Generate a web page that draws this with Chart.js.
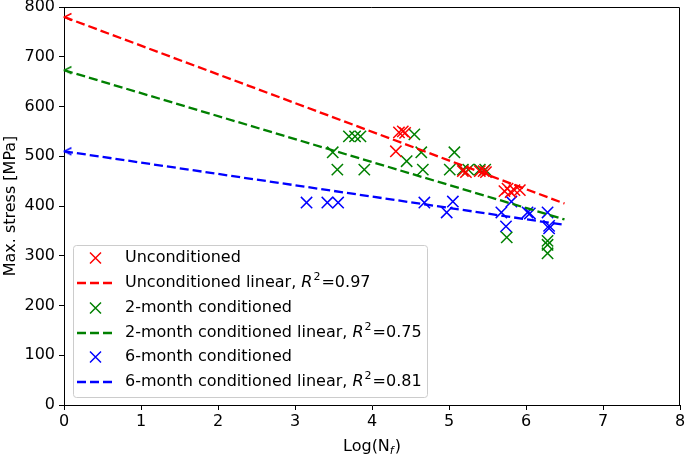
<!DOCTYPE html>
<html>
<head>
<meta charset="utf-8">
<script src="https://cdn.jsdelivr.net/npm/chart.js@4.4.0/dist/chart.umd.min.js"></script>
<style>
  body { margin: 0; background: #fff; }
  #wrap { width: 685px; height: 455px; }
</style>
</head>
<body>
<div id="wrap"><canvas id="fatigue"></canvas></div>
<script>
const uncondX = [4.31, 4.35, 4.40, 4.43, 5.18, 5.22, 5.40, 5.45, 5.48, 5.72, 5.76, 5.80, 5.85, 5.92];
const uncondY = [510, 548, 550, 547, 470, 468, 470, 470, 468, 430, 435, 428, 432, 432];

const twoMonthX = [3.49, 3.55, 3.70, 3.78, 3.85, 3.90, 4.45, 4.55, 4.64, 4.66, 5.01, 5.07, 5.18, 5.25, 5.40, 5.47, 5.75, 6.28, 6.28, 6.28];
const twoMonthY = [508, 473, 540, 540, 540, 473, 490, 544, 508, 473, 473, 508, 473, 473, 473, 473, 337, 330, 322, 305];

const sixMonthX = [3.15, 3.42, 3.56, 4.68, 4.97, 5.05, 5.68, 5.74, 5.81, 6.02, 6.05, 6.28, 6.30, 6.30];
const sixMonthY = [407, 407, 407, 407, 387, 409, 387, 359, 409, 387, 385, 387, 360, 355];

// Linear fits, end points
const fitX = [0, 6.5];
const uncondFitY = [780, 405];
const twoMonthFitY = [673, 373];
const sixMonthFitY = [510, 362];

const xTicks = [0, 1, 2, 3, 4, 5, 6, 7, 8];

const FONT = 'DejaVu Sans';
const DASH = [9, 4];

let toPoints = function (xs, ys) {
  return xs.map((x, i) => ({ x: x, y: ys[i] }));
};

// Open "<" marker drawn at the start of each fit line
let chevron = function (colour) {
  let c = document.createElement('canvas');
  c.width = 18; c.height = 12;
  let g = c.getContext('2d');
  g.strokeStyle = colour;
  g.lineWidth = 1.5;
  g.beginPath();
  g.moveTo(16.5, 2.5);
  g.lineTo(9.5, 6);
  g.lineTo(16.5, 9.5);
  g.stroke();
  return c;
};

let fitSet = function (label, ys, colour) {
  return {
    type: 'line',
    label: label,
    data: toPoints(fitX, ys),
    borderColor: colour,
    backgroundColor: colour,
    borderWidth: 2.3,
    borderDash: DASH,
    pointStyle: [chevron(colour), false],
    pointRadius: [6, 0],
    clip: false,
    fill: false
  };
};

let scatterSet = function (label, xs, ys, colour) {
  return {
    type: 'scatter',
    label: label,
    data: toPoints(xs, ys),
    borderColor: colour,
    backgroundColor: colour,
    pointStyle: 'crossRot',
    pointRadius: 8,
    borderWidth: 1.5
  };
};

// Frame on top and right, custom axis titles and the legend box
const extras = {
  id: 'extras',
  afterDraw(chart) {
    let ctx = chart.ctx;
    let a = chart.chartArea;
    ctx.save();
    ctx.strokeStyle = '#000';
    ctx.lineWidth = 1;
    ctx.beginPath();
    ctx.moveTo(a.left, a.top + 0.5);
    ctx.lineTo(a.right - 0.5, a.top + 0.5);
    ctx.lineTo(a.right - 0.5, a.bottom);
    ctx.stroke();

    // x title: Log(N_f)
    ctx.fillStyle = '#000';
    ctx.textBaseline = 'alphabetic';
    let big = '16px "' + FONT + '"';
    let sub = 'italic 11px "' + FONT + '"';
    ctx.font = big;
    let w1 = ctx.measureText('Log(N').width;
    let w3 = ctx.measureText(')').width;
    ctx.font = sub;
    let w2 = ctx.measureText('f').width + 1;
    let cx = (a.left + a.right) / 2;
    let x0 = cx - (w1 + w2 + w3) / 2;
    let by = 451;
    ctx.font = big;
    ctx.fillText('Log(N', x0, by);
    ctx.font = sub;
    ctx.fillText('f', x0 + w1, by + 3);
    ctx.font = big;
    ctx.fillText(')', x0 + w1 + w2, by);

    // y title
    ctx.save();
    ctx.translate(15, (a.top + a.bottom) / 2);
    ctx.rotate(-Math.PI / 2);
    ctx.textAlign = 'center';
    ctx.font = big;
    ctx.fillText('Max. stress [MPa]', 0, 0);
    ctx.restore();

    // legend
    let bx = 73, bTop = 245, bw = 354, bh = 152;
    ctx.fillStyle = 'rgba(255,255,255,0.8)';
    ctx.strokeStyle = '#cccccc';
    ctx.lineWidth = 1;
    ctx.beginPath();
    ctx.roundRect(bx + 0.5, bTop + 0.5, bw, bh, 3);
    ctx.fill();
    ctx.stroke();

    let rowY = [258, 283, 308, 333, 357, 382];
    chart.data.datasets.forEach((ds, i) => {
      let y = rowY[i];
      ctx.strokeStyle = ds.borderColor;
      if (ds.type === 'scatter') {
        ctx.lineWidth = 1.5;
        ctx.beginPath();
        ctx.moveTo(90, y - 5.5); ctx.lineTo(101, y + 5.5);
        ctx.moveTo(101, y - 5.5); ctx.lineTo(90, y + 5.5);
        ctx.stroke();
      } else {
        ctx.lineWidth = 2.3;
        ctx.setLineDash(DASH);
        ctx.beginPath();
        ctx.moveTo(77, y); ctx.lineTo(113, y);
        ctx.stroke();
        ctx.setLineDash([]);
      }
      ctx.fillStyle = '#000';
      ctx.textBaseline = 'middle';
      ctx.textAlign = 'left';
      ctx.font = big;
      let tx = 125;
      if (ds.r2) {
        let head = ds.label + ', ';
        ctx.fillText(head, tx, y);
        tx += ctx.measureText(head).width;
        ctx.font = 'italic 16px "' + FONT + '"';
        ctx.fillText('R', tx, y);
        tx += ctx.measureText('R').width + 1;
        ctx.font = '11px "' + FONT + '"';
        ctx.fillText('2', tx, y - 6);
        tx += ctx.measureText('2').width + 1;
        ctx.font = big;
        ctx.fillText('=' + ds.r2, tx, y);
      } else {
        ctx.fillText(ds.label, tx, y);
      }
    });
    ctx.restore();
  }
};

let sets = [
  scatterSet('Unconditioned', uncondX, uncondY, '#ff0000'),
  fitSet('Unconditioned linear', uncondFitY, '#ff0000'),
  scatterSet('2-month conditioned', twoMonthX, twoMonthY, '#008000'),
  fitSet('2-month conditioned linear', twoMonthFitY, '#008000'),
  scatterSet('6-month conditioned', sixMonthX, sixMonthY, '#0000ff'),
  fitSet('6-month conditioned linear', sixMonthFitY, '#0000ff')
];
sets[1].r2 = '0.97';
sets[3].r2 = '0.75';
sets[5].r2 = '0.81';

let ctx = document.getElementById('fatigue').getContext('2d');
new Chart(ctx, {
  data: { datasets: sets },
  options: {
    responsive: true,
    maintainAspectRatio: false,
    animation: false,
    layout: { autoPadding: false, padding: { top: 7, right: 5, left: 0, bottom: 0 } },
    plugins: {
      legend: { display: false },
      tooltip: { enabled: false }
    },
    scales: {
      x: {
        type: 'linear',
        min: 0, max: 8,
        afterBuildTicks: (s) => { s.ticks = xTicks.map(v => ({ value: v })); },
        afterFit: (s) => { s.height = 50; s.paddingRight = 0; s.paddingLeft = 0; },
        grid: { drawOnChartArea: false, drawTicks: true, tickLength: 5, color: '#000' },
        border: { display: true, color: '#000', width: 1 },
        ticks: { color: '#000', font: { family: FONT, size: 16 }, padding: 2, maxRotation: 0 }
      },
      y: {
        min: 0, max: 800,
        afterFit: (s) => { s.width = 64; s.paddingTop = 0; s.paddingBottom = 0; },
        grid: { drawOnChartArea: false, drawTicks: true, tickLength: 5, color: '#000' },
        border: { display: true, color: '#000', width: 1 },
        ticks: { stepSize: 100, color: '#000', font: { family: FONT, size: 16 }, padding: 4 }
      }
    }
  },
  plugins: [extras]
});
</script>
</body>
</html>
